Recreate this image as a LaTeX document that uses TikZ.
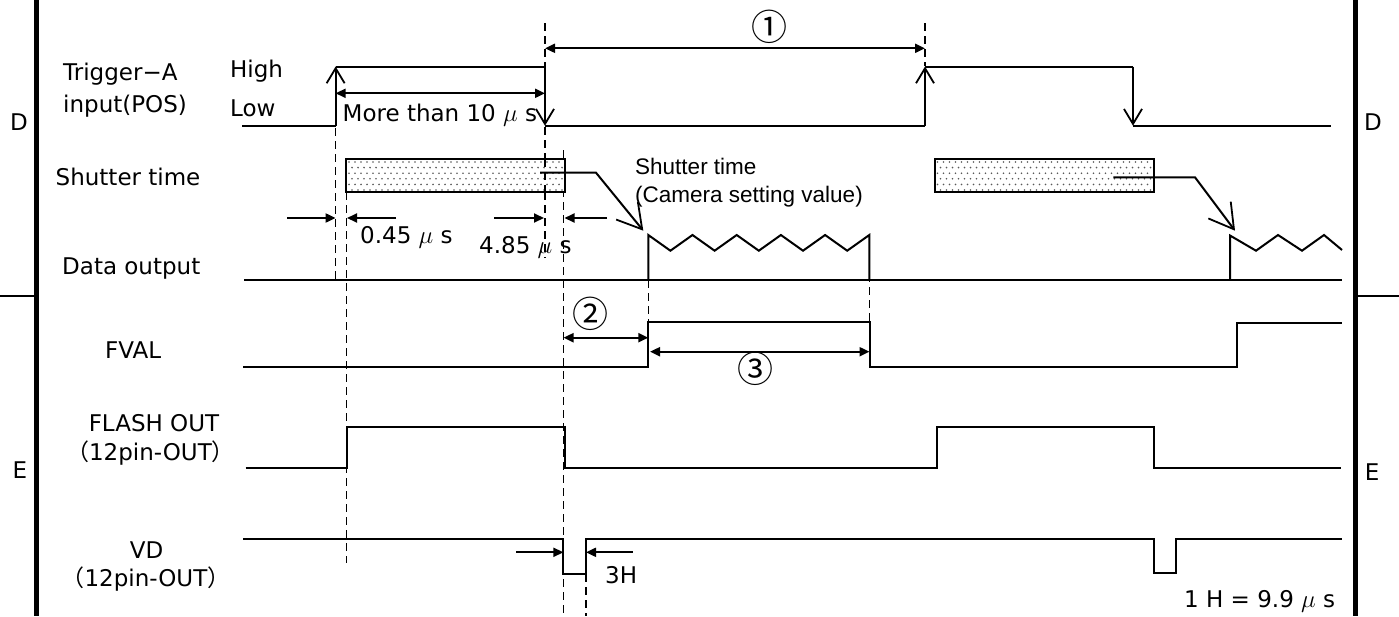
\documentclass[tikz,border=0pt]{standalone}
\usepackage{fontspec}
\setmainfont{DejaVu Sans}
\newfontfamily\libfont{Liberation Sans}
\newfontfamily\cjkfont{Noto Sans CJK JP}
\usetikzlibrary{arrows.meta}
\begin{document}
\begin{tikzpicture}[x=1pt,y=-1pt,
  sig/.style={line width=2pt},
  frame/.style={line width=5pt},
  guide/.style={line width=1.7pt, dash pattern=on 8pt off 5pt},
  dim/.style={line width=2pt, {Triangle[length=10pt,width=9pt]}-{Triangle[length=10pt,width=9pt]}},
  dimr/.style={line width=2pt, -{Triangle[length=10pt,width=9pt]}},
  edgearr/.style={line width=2pt, -{Straight Barb[length=15pt,width=18pt,line width=1.8pt]}},
  leader/.style={line width=2pt, -{Straight Barb[length=24pt,width=28pt,line width=1.8pt]}},
  lbl/.style={inner sep=0pt, font=\fontsize{23}{26}\selectfont},
  small/.style={inner sep=0pt, font=\libfont\fontsize{22.5}{25}\selectfont},
  circ/.style={inner sep=0pt, font=\cjkfont\fontsize{36}{38}\selectfont},
  shbox/.style={line width=2pt, fill=white},
  dotc/.style={fill=black!65}
]
\useasboundingbox (0,0) rectangle (1399,616);

% frame
\draw[frame] (36,0) -- (36,616);
\draw[frame] (1355,0) -- (1355,616);
\draw[sig] (0,296) -- (34,296);
\draw[sig] (1357,296) -- (1399,296);
\node[lbl] (dl) at (19,122) {D};
\node[lbl] (dr) at (1373,122) {D};
\node[lbl] (el) at (20,470) {E};
\node[lbl] (er) at (1372,472) {E};

% left labels
\node[lbl, anchor=west] (trg1) at (63,74) {Trigger−A};
\node[lbl, anchor=west] (trg2) at (63,106) {input(POS)};
\node[lbl, anchor=west] (hi) at (230,71) {High};
\node[lbl, anchor=west] (lo) at (230,108) {Low};
\node[lbl, anchor=west] (sh) at (55.5,177) {Shutter time};
\node[lbl, anchor=west] (dout) at (62,269) {Data output};
\node[lbl, anchor=west] (fval) at (105,350) {FVAL};
\node[lbl] (fl1) at (154,423) {FLASH OUT};
\node[lbl] (fl2) at (150.5,453) {{\cjkfont （}12pin-OUT{\cjkfont ）}};
\node[lbl] (vd1) at (146.7,550) {VD};
\node[lbl] (vd2) at (146,579) {{\cjkfont （}12pin-OUT{\cjkfont ）}};

% guide lines (dashed)
\draw[guide] (335.6,128) -- (335.6,280);
\draw[guide] (346.5,192) -- (346.5,563);
\draw[guide] (545,23) -- (545,258);
\draw[guide] (563.5,150) -- (563.5,616);
\draw[guide] (586,574) -- (586,616);
\draw[guide] (648.4,280) -- (648.4,322);
\draw[guide] (869.5,235) -- (869.5,367);
\draw[guide] (925,23) -- (925,66);

% Trigger-A
\draw[sig] (242,125.7) -- (335.6,125.7);
\draw[edgearr] (335.6,125.7) -- (335.6,66.5);
\draw[sig] (335.6,66.5) -- (545,66.5);
\draw[edgearr] (545,66.5) -- (545,125.7);
\draw[sig] (545,125.7) -- (925,125.7);
\draw[edgearr] (925,125.7) -- (925,66.5);
\draw[sig] (925,66.5) -- (1133,66.5);
\draw[edgearr] (1133,66.5) -- (1133,125.7);
\draw[sig] (1133,125.7) -- (1331,125.7);
\draw[dim] (335.6,93.3) -- (545,93.3);
\node[lbl, anchor=west] (m10) at (342.5,115) {More than 10 $\mu$ s};
\draw[dim] (545,48.3) -- (925,48.3);
\node[circ] (c1) at (769.3,27) {①};

% Shutter boxes
\draw[shbox] (346.3,159) rectangle (564.5,191.7);
\begin{scope}
\clip (347.5,160.2) rectangle (563.3,190.5);
\foreach \r in {0,...,5} {
  \pgfmathsetmacro{\yy}{162+\r*5.6}
  \pgfmathsetmacro{\off}{mod(\r,2)*3}
  \foreach \c in {0,...,36} {
    \fill[dotc] ({349+\off+\c*6},\yy) circle (0.9pt);
  }
}
\end{scope}
\draw[shbox] (934.8,159) rectangle (1153.5,191.7);
\begin{scope}
\clip (936,160.2) rectangle (1152.3,190.5);
\foreach \r in {0,...,5} {
  \pgfmathsetmacro{\yy}{162+\r*5.6}
  \pgfmathsetmacro{\off}{mod(\r,2)*3}
  \foreach \c in {0,...,36} {
    \fill[dotc] ({937.5+\off+\c*6},\yy) circle (0.9pt);
  }
}
\end{scope}
\draw[guide] (545,159) -- (545,192);
\draw[leader] (540,172.7) -- (596,172.7) -- (643.3,230.7);
\draw[leader] (1113.3,177.3) -- (1195,177.3) -- (1235,230.7);
\node[small, anchor=west] (sh2) at (635,166) {Shutter time};
\node[small, anchor=west] (cam) at (635,197) {(Camera setting value)};

% small timing arrows
\draw[dimr] (287,218) -- (335.6,218);
\draw[dimr] (396,218) -- (347,218);
\draw[dimr] (494,218) -- (544,218);
\draw[dimr] (607,218) -- (564.5,218);
\node[lbl, anchor=west] (t045) at (360,237) {0.45 $\mu$ s};
\node[lbl, anchor=west] (t485) at (479,247) {4.85 $\mu$ s};

% Data output
\draw[sig] (244,280) -- (1342,280);
\draw[sig, line join=miter] (648.3,280) -- (648.3,235)
  -- (670.4,250.7) -- (692.5,235) -- (714.6,250.7) -- (736.7,235)
  -- (758.8,250.7) -- (780.9,235) -- (803,250.7) -- (825.1,235)
  -- (847.2,250.7) -- (869.3,235) -- (869.3,280);
\draw[sig, line join=miter] (1230,280) -- (1230,235.5) -- (1256,250.7)
  -- (1278,235) -- (1302,250.7) -- (1324,235) -- (1342,250);

% FVAL
\draw[sig] (243,367.3) -- (648.3,367.3) -- (648.3,322.3) -- (870,322.3)
  -- (870,366.5) -- (1236.7,366.5) -- (1236.7,322.7) -- (1342,322.7);
\draw[dim] (563.5,337.7) -- (648.3,337.7);
\node[circ] (c2) at (590,314) {②};
\draw[dim] (650,351.7) -- (869.5,351.7);
\node[circ] (c3) at (755,369) {③};

% FLASH OUT
\draw[sig] (245.5,467.7) -- (346.9,467.7) -- (346.9,427.3) -- (564.7,427.3)
  -- (564.7,467.7) -- (936.7,467.7) -- (936.7,427.3) -- (1154,427.3)
  -- (1154,467.7) -- (1340.5,467.7);

% VD
\draw[sig] (243.3,539) -- (563.4,539) -- (563.4,574) -- (586,574) -- (586,539)
  -- (1154,539) -- (1154,573.3) -- (1176,573.3) -- (1176,539) -- (1341.7,539);
\draw[dimr] (516,552.3) -- (563.4,552.3);
\draw[dimr] (632.7,552.3) -- (586,552.3);
\node[lbl, anchor=west] (h3) at (605,575) {3H};
\node[lbl, anchor=west] (h1) at (1184,601.7) {1 H = 9.9 $\mu$ s};
\end{tikzpicture}
\end{document}
